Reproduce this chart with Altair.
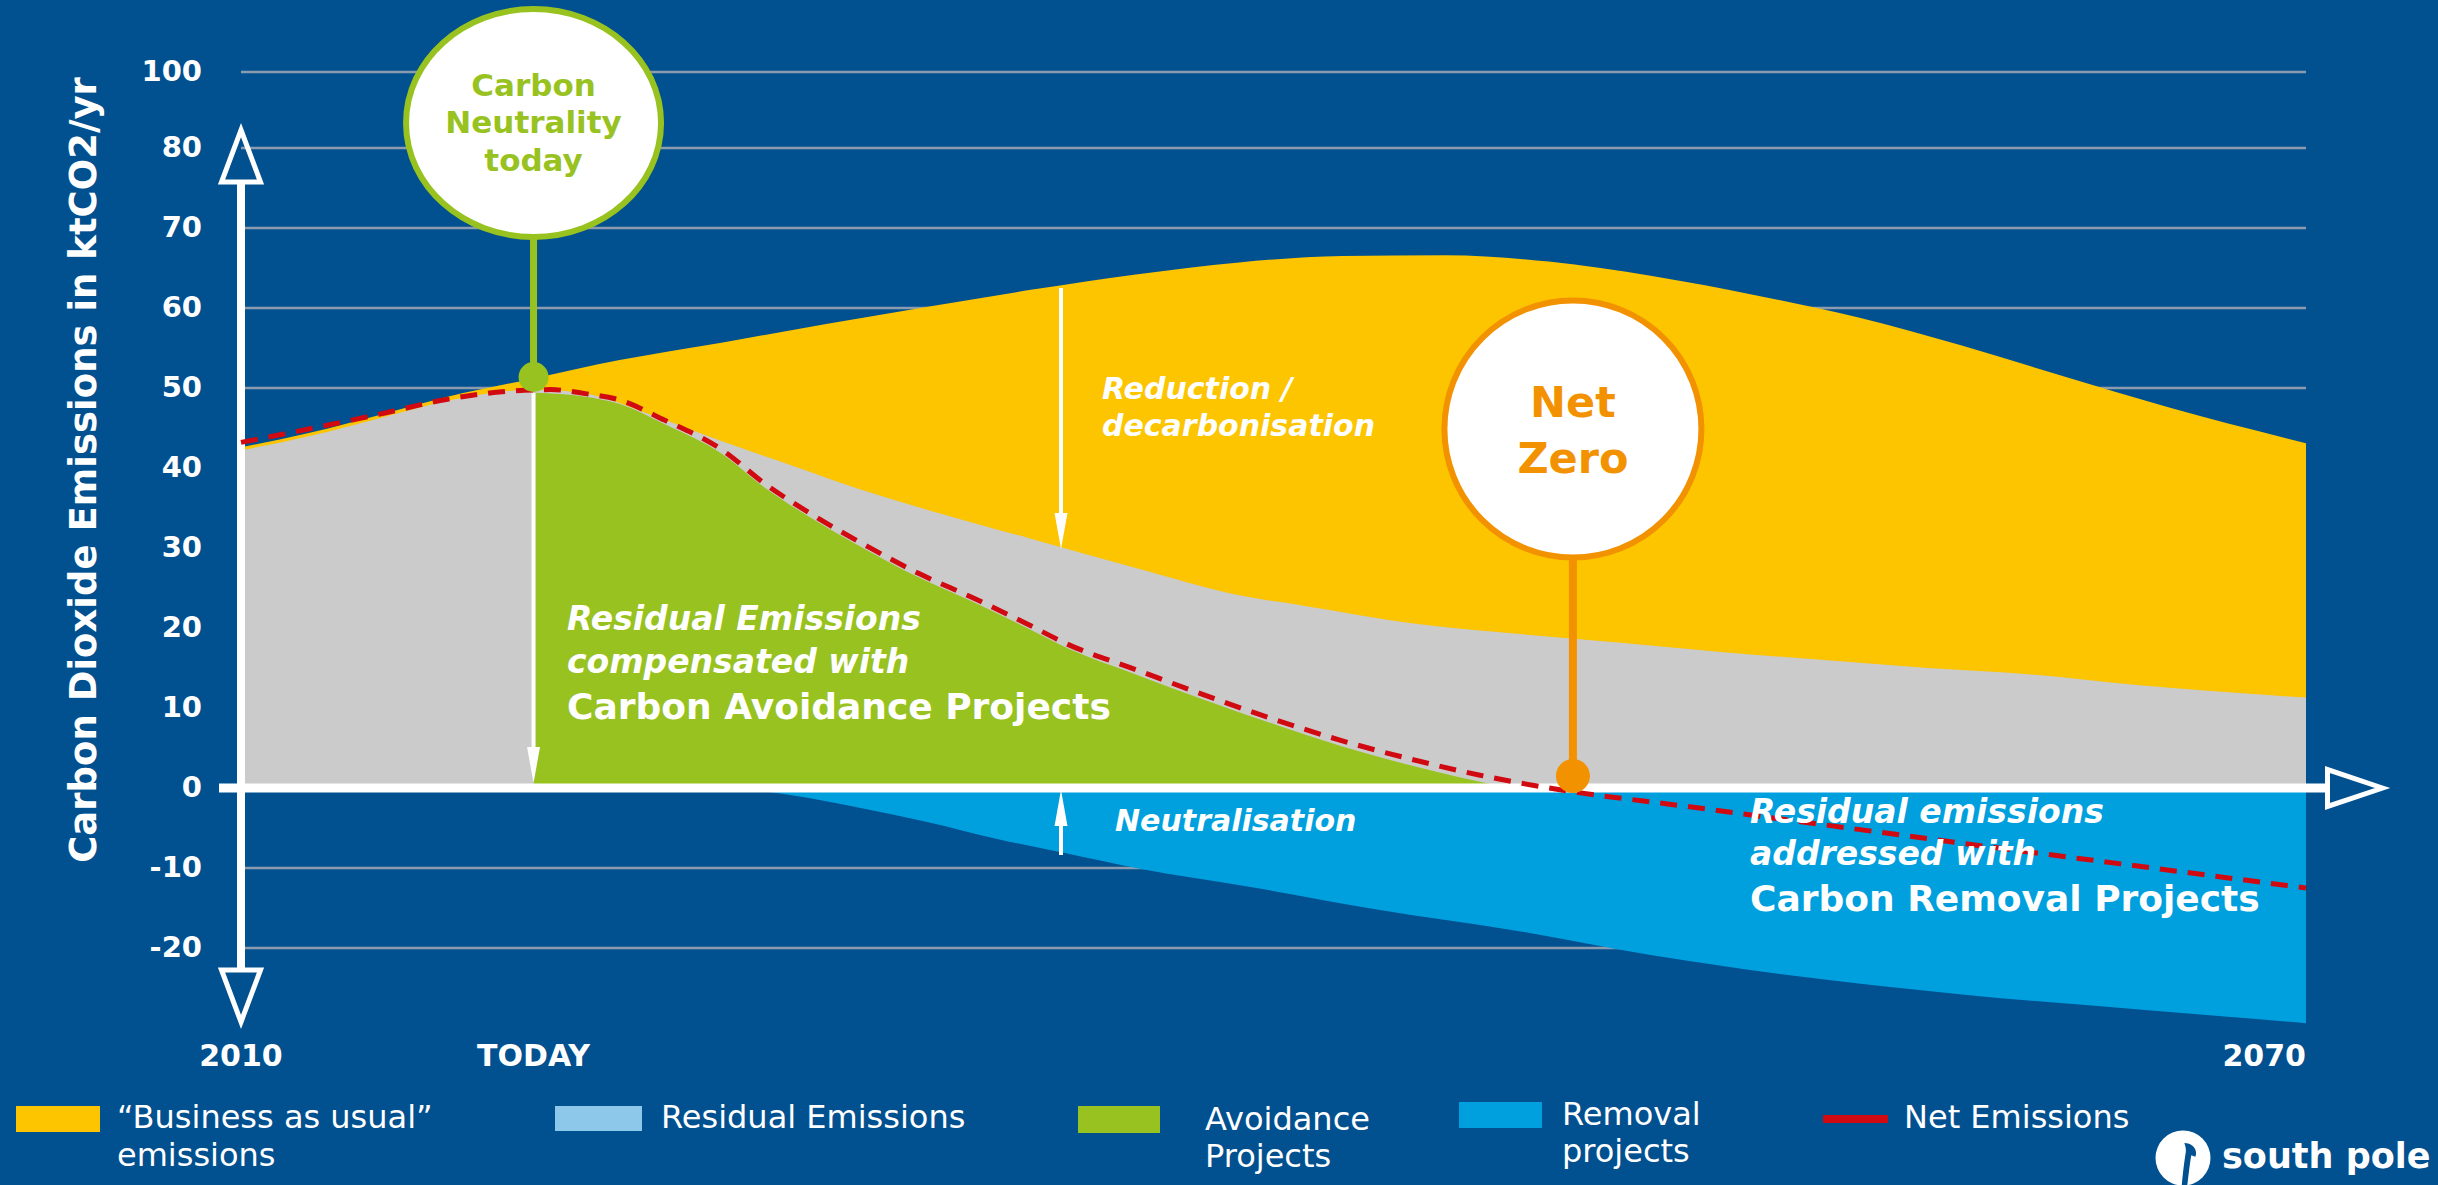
import altair as alt
import pandas as pd

# ---------------- data ----------------
bau_years = [2010, 2012, 2014, 2016, 2018.5, 2021, 2024, 2027, 2030, 2033, 2036, 2039,
             2042, 2045, 2048, 2051, 2054, 2057, 2060, 2063, 2066, 2070]
bau_vals = [42.6, 44.4, 46.6, 48.9, 51.2, 53.5, 55.7, 58.0, 60.2, 62.3, 64.2, 65.7,
            66.5, 66.6, 65.8, 64.0, 61.6, 58.8, 55.3, 51.4, 47.6, 43.1]

residual_years = [2010, 2012, 2014, 2016, 2017.5, 2018.5, 2020, 2022, 2024, 2026, 2028, 2030,
                  2033, 2036, 2039, 2041, 2044, 2047, 2050, 2053, 2056, 2059, 2062, 2065, 2070]
residual_vals = [42.2, 44.0, 46.2, 48.4, 49.5, 49.8, 49.3, 46.5, 43.3, 40.3, 37.3, 34.7,
                 31.1, 27.5, 24.1, 22.7, 20.6, 19.3, 18.2, 17.0, 16.0, 15.0, 14.2, 12.9, 11.3]

avoid_years = [2018.5, 2020, 2021, 2022.3, 2024, 2025.2, 2026.7, 2028.2, 2029.7, 2031.2,
               2032.8, 2034, 2036, 2038, 2040, 2042, 2044, 2046.8]
avoid_vals = [49.4, 48.9, 48.0, 45.5, 41.7, 37.6, 33.4, 29.7, 26.3, 23.4,
              20.1, 17.5, 14.2, 11.0, 8.0, 5.2, 2.8, 0.0]

removal_years = [2024.2, 2026, 2028, 2030, 2032, 2034, 2036, 2039.5, 2043, 2047, 2051,
                 2055, 2060, 2065.5, 2070]
removal_vals = [0.0, -0.9, -2.5, -4.3, -6.4, -8.2, -10.0, -12.5, -15.2, -17.8, -20.9,
                -23.4, -25.8, -27.8, -29.4]

net_years = [2010, 2012, 2014, 2016, 2017.5, 2019, 2020, 2021, 2022.3, 2024, 2025.2, 2026.7,
             2028.2, 2029.7, 2031.2, 2032.8, 2034, 2036, 2038, 2040, 2042, 2044, 2046, 2048,
             2052, 2056, 2060, 2065, 2070]
net_vals = [43.2, 44.9, 46.7, 48.6, 49.5, 49.8, 49.3, 48.5, 46.0, 42.2, 38.1, 33.9,
            30.2, 26.8, 23.9, 20.6, 18.0, 14.8, 11.6, 8.6, 5.9, 3.6, 1.6, 0.0,
            -2.3, -4.6, -6.9, -9.7, -12.5]

x_tick_values = [2010, 2018.5, 2070]
x_tick_labels = ["2010", "TODAY", "2070"]
y_tick_values = [-20, -10, 0, 10, 20, 30, 40, 50, 60, 70, 80, 89.5]
y_tick_labels = ["-20", "-10", "0", "10", "20", "30", "40", "50", "60", "70", "80", "100"]
y_title = "Carbon Dioxide Emissions in ktCO2/yr"

TODAY = 2018.5
NET_ZERO = 2048.7

neutrality_lines = ["Carbon", "Neutrality", "today"]
netzero_lines = ["Net", "Zero"]
reduction_lines = ["Reduction /", "decarbonisation"]
avoid_lines = ["Residual Emissions", "compensated with", "Carbon Avoidance Projects"]
removal_lines = ["Residual emissions", "addressed  with", "Carbon Removal Projects"]
neutral_label = "Neutralisation"

legend_labels = [["\u201cBusiness as usual\u201d", "emissions"], ["Residual Emissions"],
                 ["Avoidance", "Projects"], ["Removal", "projects"], ["Net Emissions"]]
logo_text = "south pole"

# ---------------- styles / layout ----------------
FONT = "DejaVu Sans"
BG = "#01508F"
YELLOW = "#FDC400"
GRAY = "#CBCBCB"
GREEN = "#98C21F"
BLUE = "#009FDE"
LIGHTBLUE = "#8DC8EA"
RED = "#D10A11"
ORANGE = "#F39200"
GRID = "#8C9BAE"
legend_colors = [YELLOW, LIGHTBLUE, GREEN, BLUE, RED]

X_DOMAIN = [2010, 2070]
Y_DOMAIN = [-30, 90]
W, H = 2065, 960
PAD_L, PAD_T = 241, 68
PAD_R = 2438 - PAD_L - W
PAD_B = 1185 - PAD_T - H


def px2x(px):
    return X_DOMAIN[0] + (px - PAD_L) * (X_DOMAIN[1] - X_DOMAIN[0]) / W


def py2y(py):
    return Y_DOMAIN[1] - (py - PAD_T) * (Y_DOMAIN[1] - Y_DOMAIN[0]) / H


xscale = alt.Scale(domain=X_DOMAIN, nice=False, zero=False)
yscale = alt.Scale(domain=Y_DOMAIN, nice=False, zero=False)


def ex(field="year"):
    return alt.X(f"{field}:Q", scale=xscale, axis=None)


def ey(field="v"):
    return alt.Y(f"{field}:Q", scale=yscale, axis=None)


def series_df(years, vals):
    return pd.DataFrame({"year": years, "v": vals, "z": [0.0] * len(years)})


def area(years, vals, color):
    return alt.Chart(series_df(years, vals)).mark_area(
        color=color, interpolate="monotone", opacity=1
    ).encode(x=ex(), y=ey(), y2="z:Q")


def rules(rows, color, width):
    d = pd.DataFrame(rows, columns=["year", "v", "year2", "v2"])
    return alt.Chart(d).mark_rule(color=color, strokeWidth=width, strokeCap="butt").encode(
        x=ex("year"), y=ey("v"), x2="year2:Q", y2="v2:Q")


def points(rows, shape, size, fill, stroke, sw, filled=True):
    d = pd.DataFrame(rows, columns=["year", "v"])
    kw = dict(shape=shape, size=size, opacity=1, strokeWidth=sw, strokeJoin="miter")
    if filled:
        m = alt.Chart(d).mark_point(filled=True, fill=fill, stroke=stroke, **kw)
    else:
        m = alt.Chart(d).mark_point(filled=False, color=stroke, **kw)
    return m.encode(x=ex(), y=ey())


def texts(rows, size, color, align="left", style="normal", weight="bold", baseline="middle", angle=0):
    d = pd.DataFrame(rows, columns=["year", "v", "t"])
    return alt.Chart(d).mark_text(
        font=FONT, fontSize=size, color=color, align=align, baseline=baseline,
        fontStyle=style, fontWeight=weight, angle=angle
    ).encode(x=ex(), y=ey(), text="t:N")


# ---------------- axes drawn as marks ----------------
grid_layer = rules([[X_DOMAIN[0], v, X_DOMAIN[1], v] for v in y_tick_values if v != 0], GRID, 2.5)
ytick_text = texts([[px2x(202), v, l] for v, l in zip(y_tick_values, y_tick_labels)],
                   29, "white", align="right")
xtick_center = texts([[v, py2y(1057), l] for v, l in zip(x_tick_values, x_tick_labels) if v < X_DOMAIN[1]],
                     30, "white", align="center")
xtick_right = texts([[v, py2y(1057), l] for v, l in zip(x_tick_values, x_tick_labels) if v >= X_DOMAIN[1]],
                    30, "white", align="right")
ytitle_text = texts([[px2x(85), py2y(470), y_title]], 37, "white", align="center", angle=270)

# ---------------- data layers ----------------
bau_layer = area(bau_years, bau_vals, YELLOW)
residual_layer = area(residual_years, residual_vals, GRAY)
avoid_layer = area(avoid_years, avoid_vals, GREEN)
removal_layer = area(removal_years, removal_vals, BLUE)

net_layer = alt.Chart(series_df(net_years, net_vals)).mark_line(
    color=RED, strokeWidth=5, strokeDash=[17, 11], interpolate="monotone"
).encode(x=ex(), y=ey())

# axis arrows
x_axis_line = rules([[px2x(219), 0, px2x(2330), 0]], "white", 9)
y_axis_line = rules([[2010, py2y(182), 2010, py2y(970)]], "white", 8)
up_open = points([[2010, py2y(156)]], "M0,-1L0.75,1L-0.75,1Z", 2704, None, "white", 5, filled=False)
down_open = points([[2010, py2y(996)]], "M0,1L0.75,-1L-0.75,-1Z", 2704, None, "white", 5, filled=False)
right_open = points([[px2x(2355), 0]], "M1,0L-1,-0.67L-1,0.67Z", 3025, None, "white", 5, filled=False)

# thin white arrows
ARROW_X = px2x(1061)
thin_lines = rules([
    [TODAY, py2y(393), TODAY, py2y(752)],
    [ARROW_X, py2y(288), ARROW_X, py2y(520)],
    [ARROW_X, py2y(855), ARROW_X, py2y(818)],
], "white", 4)
heads_down = points([[TODAY, py2y(765)], [ARROW_X, py2y(531)]],
                    "M0,1L0.36,-1L-0.36,-1Z", 1296, "white", "white", 0)
heads_up = points([[ARROW_X, py2y(808)]], "M0,-1L0.36,1L-0.36,1Z", 1296, "white", "white", 0)

# milestone markers
green_stem = rules([[TODAY, py2y(235), TODAY, py2y(377)]], GREEN, 7)
orange_stem = rules([[NET_ZERO, py2y(556), NET_ZERO, py2y(776)]], ORANGE, 8)
green_dot = points([[TODAY, py2y(377)]], "circle", 900, GREEN, GREEN, 0)
orange_dot = points([[NET_ZERO, py2y(776)]], "circle", 1156, ORANGE, ORANGE, 0)
ellipse_path = "M-1,0A1,0.894,0,1,1,1,0A1,0.894,0,1,1,-1,0Z"
neutrality_circle = points([[TODAY, py2y(123)]], ellipse_path, 65025, "white", GREEN, 6)
netzero_circle = points([[NET_ZERO, py2y(429)]], "circle", 66049, "white", ORANGE, 6)

neutrality_text = texts([[TODAY, py2y(p), t] for p, t in zip([87, 124, 162], neutrality_lines)],
                        31, GREEN, align="center")
netzero_text = texts([[NET_ZERO, py2y(p), t] for p, t in zip([404, 460], netzero_lines)],
                     43, ORANGE, align="center")

# annotation texts
reduction_text = texts([[px2x(1102), py2y(p), t] for p, t in zip([390, 427], reduction_lines)],
                       30, "white", style="italic")
avoid_it = texts([[px2x(567), py2y(p), t] for p, t in zip([620, 663], avoid_lines[:2])],
                 33, "white", style="italic")
avoid_main = texts([[px2x(567), py2y(708), avoid_lines[2]]], 36, "white")
removal_it = texts([[px2x(1750), py2y(p), t] for p, t in zip([813, 855], removal_lines[:2])],
                   33, "white", style="italic")
removal_main = texts([[px2x(1750), py2y(900), removal_lines[2]]], 36, "white")
neutral_text = texts([[px2x(1115), py2y(822), neutral_label]], 30, "white", style="italic")

# legend (manual, below the plot)
swatch_px = [(16, 100, 1106, 1132), (555, 642, 1106, 1131), (1078, 1160, 1106, 1133), (1459, 1542, 1102, 1128)]
sw_df = pd.DataFrame({
    "year": [px2x(a) for a, b, c, d in swatch_px], "year2": [px2x(b) for a, b, c, d in swatch_px],
    "v": [py2y(c) for a, b, c, d in swatch_px], "v2": [py2y(d) for a, b, c, d in swatch_px],
    "c": legend_colors[:4],
})
legend_swatches = alt.Chart(sw_df).mark_rect(opacity=1).encode(
    x=ex("year"), x2="year2:Q", y=ey("v"), y2="v2:Q", color=alt.Color("c:N", scale=None))
legend_line = rules([[px2x(1823), py2y(1119), px2x(1888), py2y(1119)]], legend_colors[4], 8)

legend_text_pos = [(117, [1118, 1156]), (661, [1118]), (1205, [1120, 1157]), (1562, [1115, 1152]), (1904, [1118])]
legend_rows = []
for (px, pys), lines in zip(legend_text_pos, legend_labels):
    for py, t in zip(pys, lines):
        legend_rows.append([px2x(px), py2y(py), t])
legend_text = texts(legend_rows, 32, "white", weight="normal")

# logo: white disc with a simple penguin-like notch, plus wordmark
logo_icon = points([[px2x(2183), py2y(1158)]], "circle", 3025, "white", "white", 0)
penguin_path = "M0.05,-0.55C0.35,-0.55 0.55,-0.3 0.45,-0.05L0.3,-0.1C0.25,0.2 0.2,0.6 0.15,1.05L-0.05,1.05C0,0.5 0.05,0.1 0.1,-0.2C0.12,-0.35 0.08,-0.45 0.05,-0.55Z"
logo_notch = points([[px2x(2183), py2y(1158)]], penguin_path, 3025, BG, BG, 0)
logo_label = texts([[px2x(2222), py2y(1157), logo_text]], 35, "white")

chart = alt.layer(
    grid_layer,
    bau_layer, residual_layer, avoid_layer, removal_layer,
    x_axis_line, y_axis_line, net_layer,
    up_open, down_open, right_open,
    thin_lines, heads_down, heads_up,
    green_stem, orange_stem, green_dot, orange_dot,
    neutrality_circle, netzero_circle, neutrality_text, netzero_text,
    reduction_text, avoid_it, avoid_main, removal_it, removal_main, neutral_text,
    ytick_text, xtick_center, xtick_right, ytitle_text,
    legend_swatches, legend_line, legend_text, logo_icon, logo_notch, logo_label,
).properties(
    width=W, height=H, background=BG,
    padding={"left": PAD_L, "top": PAD_T, "right": PAD_R, "bottom": PAD_B},
    autosize=alt.AutoSizeParams(type="none"),
).configure_view(stroke=None)

chart.save("out.html", embed_options={"renderer": "svg", "actions": False})
